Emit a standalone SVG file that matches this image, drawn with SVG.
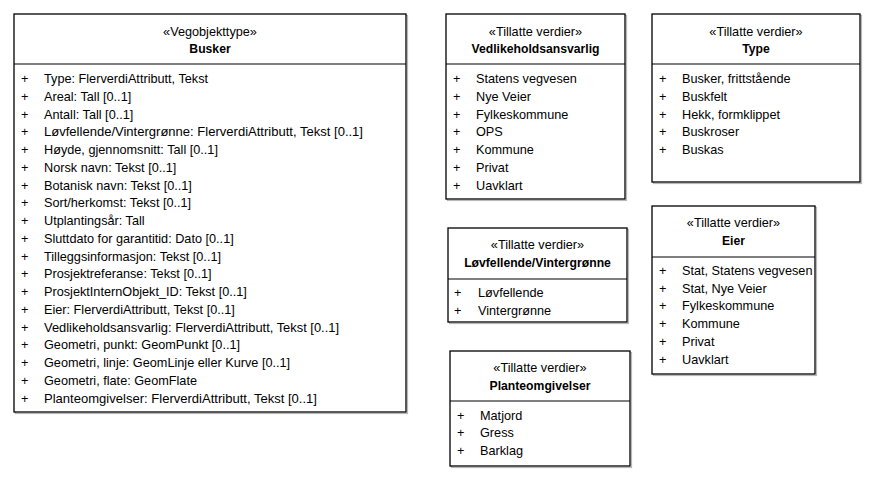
<svg xmlns="http://www.w3.org/2000/svg" width="879" height="483" viewBox="0 0 879 483">
<style>
.bg{fill:#fff}
.box{fill:#fff;stroke:#000;stroke-width:1.3}
.sh{fill:none;stroke:#b8b8b8;stroke-width:1.2}
.div{stroke:#000;stroke-width:1.2}
text{font-family:"Liberation Sans",Arial,sans-serif;font-size:12.7px;fill:#000}
.c{text-anchor:middle}
.b{font-weight:bold;font-size:12.2px}
</style>
<rect class="bg" x="0" y="0" width="879" height="483"/>
<g id="connectors"></g>

<g id="busker">
<rect class="sh" x="15.5" y="15.5" width="392" height="398"/>
<rect class="box" x="14" y="14" width="392" height="398"/>
<line class="div" x1="14" y1="64" x2="406" y2="64"/>
<text class="c" x="210" y="35.5">«Vegobjekttype»</text>
<text class="c b" x="210" y="52.5">Busker</text>
<g>
<text x="21" y="83">+</text><text x="44" y="83">Type: FlerverdiAttributt, Tekst</text>
<text x="21" y="100.7">+</text><text x="44" y="100.7">Areal: Tall [0..1]</text>
<text x="21" y="118.5">+</text><text x="44" y="118.5">Antall: Tall [0..1]</text>
<text x="21" y="136.2">+</text><text x="44" y="136.2" textLength="319" lengthAdjust="spacingAndGlyphs">Løvfellende/Vintergrønne: FlerverdiAttributt, Tekst [0..1]</text>
<text x="21" y="154">+</text><text x="44" y="154">Høyde, gjennomsnitt: Tall [0..1]</text>
<text x="21" y="171.7">+</text><text x="44" y="171.7">Norsk navn: Tekst [0..1]</text>
<text x="21" y="189.5">+</text><text x="44" y="189.5">Botanisk navn: Tekst [0..1]</text>
<text x="21" y="207.2">+</text><text x="44" y="207.2">Sort/herkomst: Tekst [0..1]</text>
<text x="21" y="225">+</text><text x="44" y="225">Utplantingsår: Tall</text>
<text x="21" y="242.7">+</text><text x="44" y="242.7">Sluttdato for garantitid: Dato [0..1]</text>
<text x="21" y="260.5">+</text><text x="44" y="260.5">Tilleggsinformasjon: Tekst [0..1]</text>
<text x="21" y="278.2">+</text><text x="44" y="278.2">Prosjektreferanse: Tekst [0..1]</text>
<text x="21" y="296">+</text><text x="44" y="296">ProsjektInternObjekt_ID: Tekst [0..1]</text>
<text x="21" y="313.7">+</text><text x="44" y="313.7">Eier: FlerverdiAttributt, Tekst [0..1]</text>
<text x="21" y="331.5">+</text><text x="44" y="331.5" textLength="295" lengthAdjust="spacingAndGlyphs">Vedlikeholdsansvarlig: FlerverdiAttributt, Tekst [0..1]</text>
<text x="21" y="349.2">+</text><text x="44" y="349.2">Geometri, punkt: GeomPunkt [0..1]</text>
<text x="21" y="367">+</text><text x="44" y="367">Geometri, linje: GeomLinje eller Kurve [0..1]</text>
<text x="21" y="384.7">+</text><text x="44" y="384.7">Geometri, flate: GeomFlate</text>
<text x="21" y="402.5">+</text><text x="44" y="402.5" textLength="273" lengthAdjust="spacingAndGlyphs">Planteomgivelser: FlerverdiAttributt, Tekst [0..1]</text>
</g>
</g>

<g id="vedlikeholdsansvarlig">
<rect class="sh" x="447.5" y="15.5" width="179" height="185"/>
<rect class="box" x="446" y="14" width="179" height="185"/>
<line class="div" x1="446" y1="64" x2="625" y2="64"/>
<text class="c" x="535.5" y="35.5">«Tillatte verdier»</text>
<text class="c b" x="535.5" y="52.5">Vedlikeholdsansvarlig</text>
<text x="453" y="83">+</text><text x="476" y="83">Statens vegvesen</text>
<text x="453" y="100.7">+</text><text x="476" y="100.7">Nye Veier</text>
<text x="453" y="118.5">+</text><text x="476" y="118.5">Fylkeskommune</text>
<text x="453" y="136.2">+</text><text x="476" y="136.2">OPS</text>
<text x="453" y="154">+</text><text x="476" y="154">Kommune</text>
<text x="453" y="171.7">+</text><text x="476" y="171.7">Privat</text>
<text x="453" y="189.5">+</text><text x="476" y="189.5">Uavklart</text>
</g>

<g id="type">
<rect class="sh" x="653.5" y="15.5" width="208" height="168"/>
<rect class="box" x="652" y="14" width="208" height="168"/>
<line class="div" x1="652" y1="64" x2="860" y2="64"/>
<text class="c" x="756" y="35.5">«Tillatte verdier»</text>
<text class="c b" x="756" y="52.5">Type</text>
<text x="659" y="83">+</text><text x="682" y="83">Busker, frittstående</text>
<text x="659" y="100.7">+</text><text x="682" y="100.7">Buskfelt</text>
<text x="659" y="118.5">+</text><text x="682" y="118.5">Hekk, formklippet</text>
<text x="659" y="136.2">+</text><text x="682" y="136.2">Buskroser</text>
<text x="659" y="154">+</text><text x="682" y="154">Buskas</text>
</g>

<g id="lovfellende">
<rect class="sh" x="449.5" y="229.5" width="179" height="94"/>
<rect class="box" x="448" y="228" width="179" height="94"/>
<line class="div" x1="448" y1="279" x2="627" y2="279"/>
<text class="c" x="537.5" y="248.5">«Tillatte verdier»</text>
<text class="c b" x="537.5" y="267">Løvfellende/Vintergrønne</text>
<text x="454" y="297">+</text><text x="478" y="297">Løvfellende</text>
<text x="454" y="315">+</text><text x="478" y="315">Vintergrønne</text>
</g>

<g id="planteomgivelser">
<rect class="sh" x="451.5" y="352.5" width="180" height="115"/>
<rect class="box" x="450" y="351" width="180" height="115"/>
<line class="div" x1="450" y1="401" x2="630" y2="401"/>
<text class="c" x="540" y="371.7">«Tillatte verdier»</text>
<text class="c b" x="540" y="389.7">Planteomgivelser</text>
<text x="457" y="419.7">+</text><text x="480" y="419.7">Matjord</text>
<text x="457" y="437">+</text><text x="480" y="437">Gress</text>
<text x="457" y="455">+</text><text x="480" y="455">Barklag</text>
</g>

<g id="eier">
<rect class="sh" x="653.5" y="207.5" width="163" height="168"/>
<rect class="box" x="652" y="206" width="163" height="168"/>
<line class="div" x1="652" y1="257" x2="815" y2="257"/>
<text class="c" x="733.5" y="227">«Tillatte verdier»</text>
<text class="c b" x="733.5" y="244.7">Eier</text>
<text x="659" y="275">+</text><text x="682" y="275">Stat, Statens vegvesen</text>
<text x="659" y="293">+</text><text x="682" y="293">Stat, Nye Veier</text>
<text x="659" y="310">+</text><text x="682" y="310">Fylkeskommune</text>
<text x="659" y="327.7">+</text><text x="682" y="327.7">Kommune</text>
<text x="659" y="345.7">+</text><text x="682" y="345.7">Privat</text>
<text x="659" y="363.7">+</text><text x="682" y="363.7">Uavklart</text>
</g>
</svg>
